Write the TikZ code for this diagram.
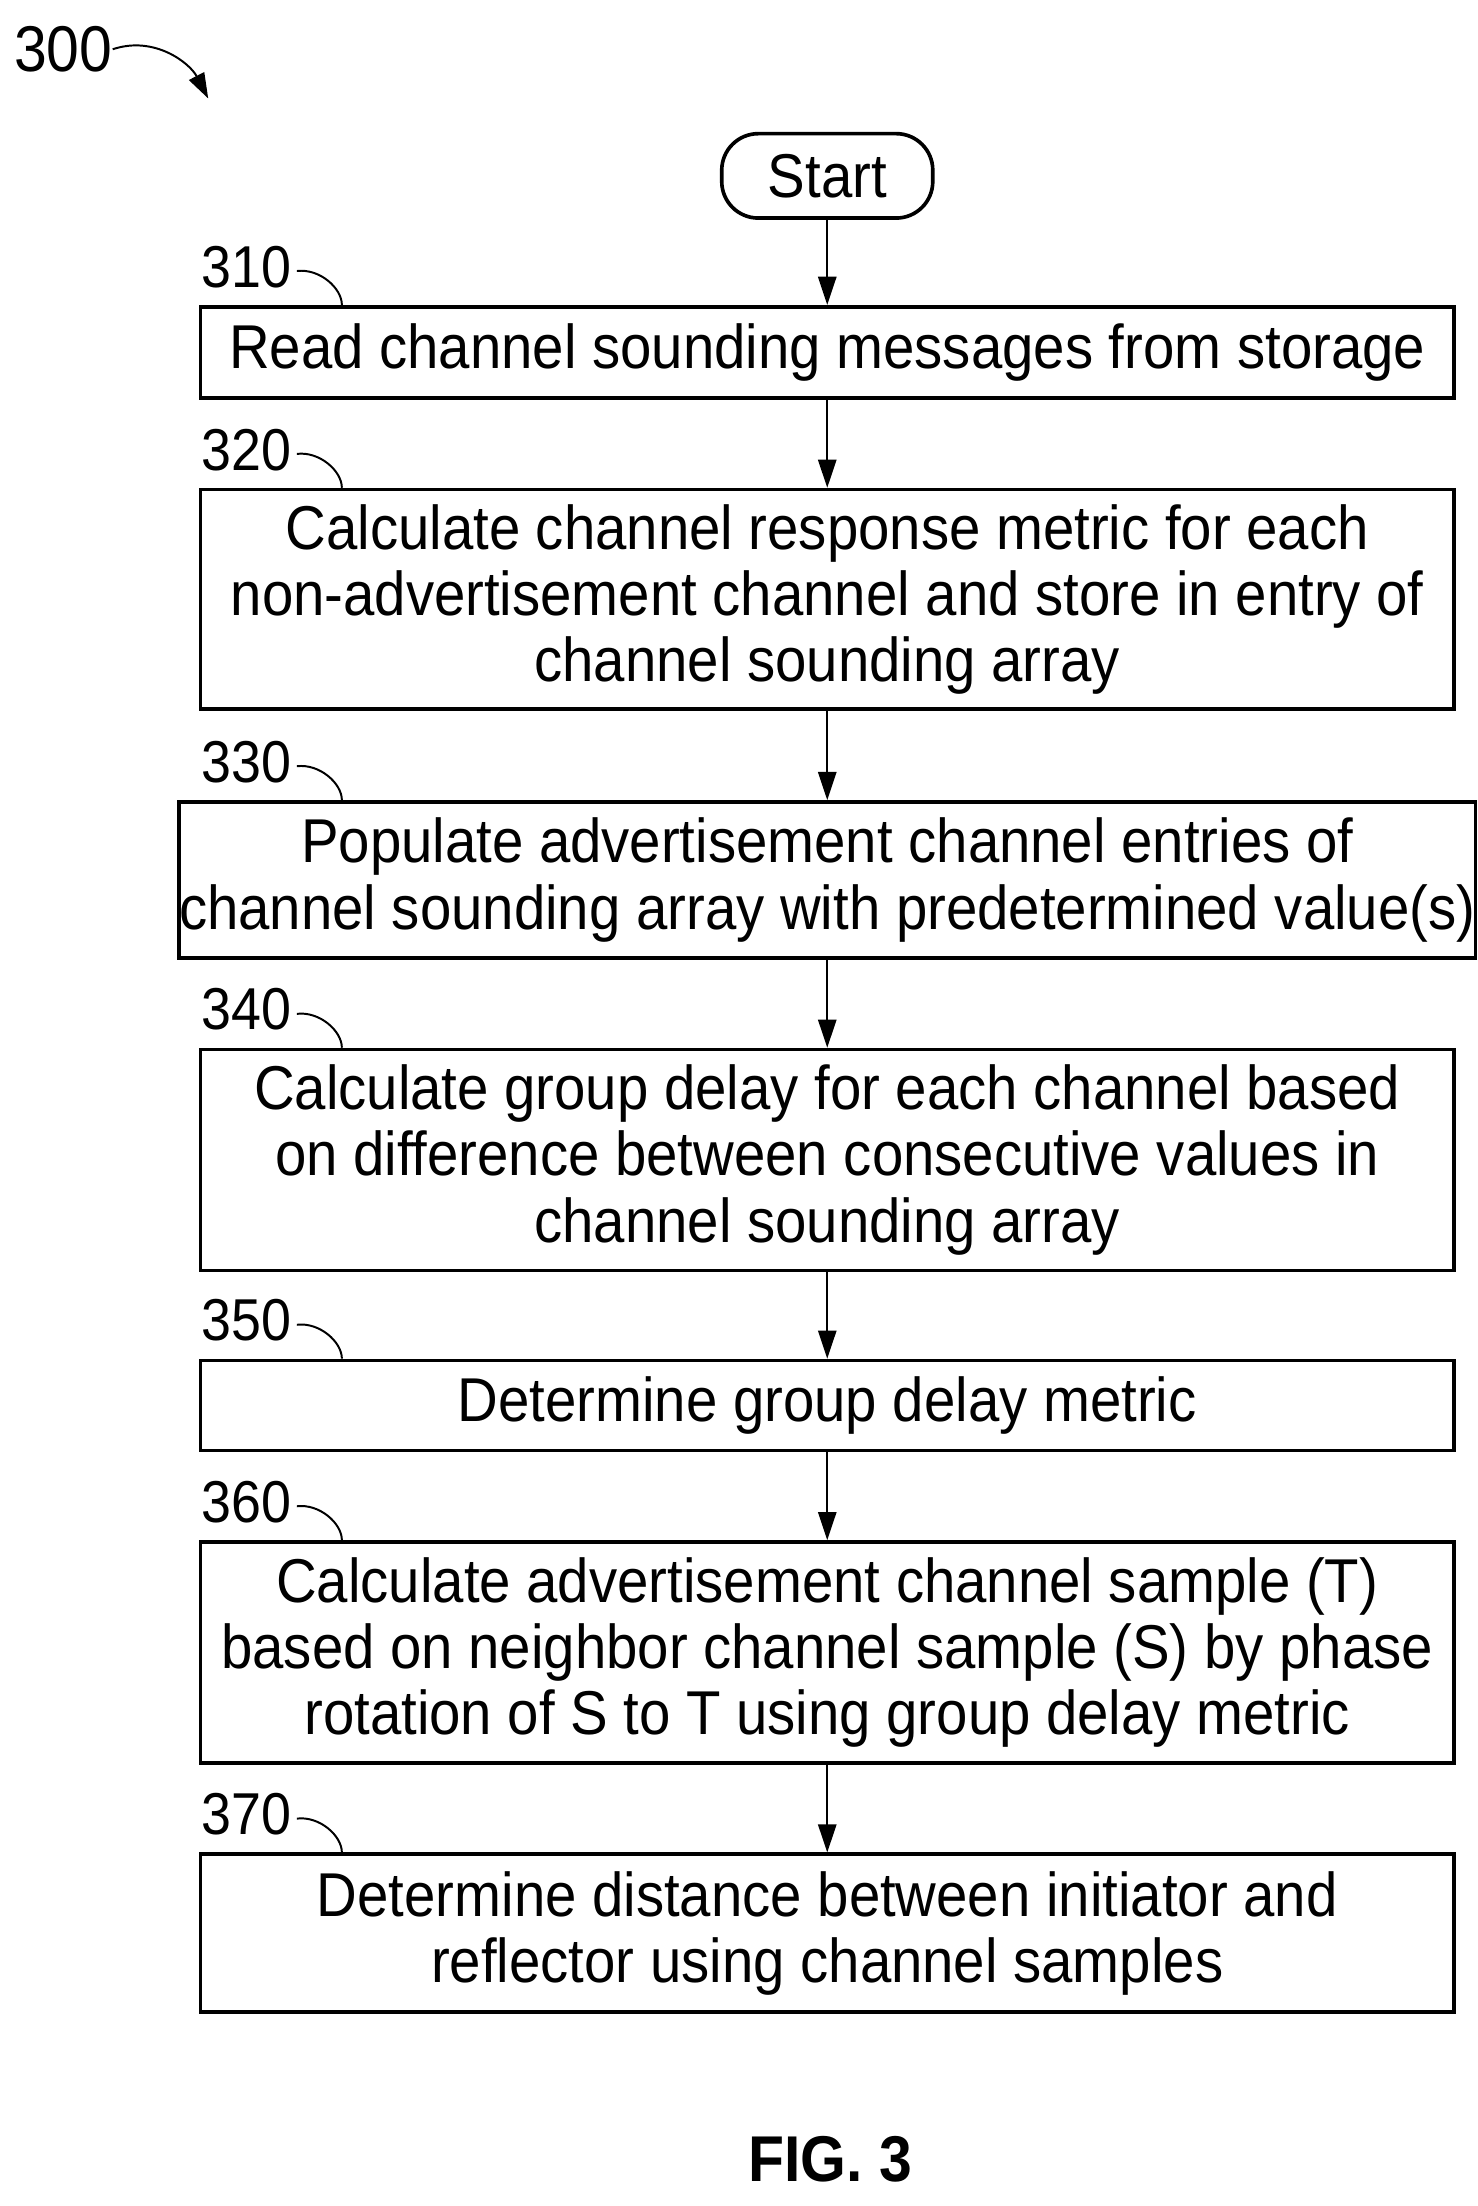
\documentclass[tikz,border=0pt]{standalone}
\usepackage{fontspec}
\setmainfont[FakeStretch=0.91]{Liberation Sans}
\usetikzlibrary{arrows.meta}
\begin{document}
\begin{tikzpicture}[x=1pt,y=-1pt,
  stepbox/.style={draw,line width=2.6pt,minimum width=891pt,inner sep=0pt,align=center,font=\fontsize{44}{47}\selectfont},
  lbl/.style={font=\fontsize{42}{44}\selectfont,inner sep=0pt},
  conn/.style={line width=1.4pt,-{Triangle[length=20pt,width=13pt]}},
  hook/.style={line width=1.4pt}]
\useasboundingbox (0,0) rectangle (1050,1568);
\node[lbl,font=\fontsize{46}{48}\selectfont] (l300) at (45,35) {300};
\coordinate (a300) at (148,70);
\draw[line width=1.4pt,-{Triangle[length=18pt,width=12pt]}] (l300.east) .. controls (110,25) and (135,45) .. (a300);
\node[draw,line width=2.6pt,rounded corners=26pt,minimum width=150pt,minimum height=60pt,font=\fontsize{44}{47}\selectfont] (start) at (588,125) {Start};
\node[stepbox,minimum height=65pt] (b310) at (588,250.5) {Read channel sounding messages from storage};
\node[stepbox,minimum height=156pt] (b320) at (588,426) {Calculate channel response metric for each\\non-advertisement channel and store in entry of\\channel sounding array};
\node[stepbox,minimum height=111pt] (b330) at (588,625.5) {Populate advertisement channel entries of\\channel sounding array with predetermined value(s)};
\node[stepbox,minimum height=157pt] (b340) at (588,824.5) {Calculate group delay for each channel based\\on difference between consecutive values in\\channel sounding array};
\node[stepbox,minimum height=64pt] (b350) at (588,999) {Determine group delay metric};
\node[stepbox,minimum height=157pt] (b360) at (588,1174.5) {Calculate advertisement channel sample (T)\\based on neighbor channel sample (S) by phase\\rotation of S to T using group delay metric};
\node[stepbox,minimum height=112pt] (b370) at (588,1374) {Determine distance between initiator and\\reflector using channel samples};
\draw[conn] (start) -- (b310);
\draw[conn] (b310) -- (b320);
\draw[conn] (b320) -- (b330);
\draw[conn] (b330) -- (b340);
\draw[conn] (b340) -- (b350);
\draw[conn] (b350) -- (b360);
\draw[conn] (b360) -- (b370);
\foreach \n in {310,320,330,340,350,360,370}{
  \node[lbl,anchor=south east] (l\n) at ([xshift=-381pt,yshift=12pt]b\n.north) {\n};
  \draw[hook] ([xshift=4pt,yshift=-3pt]l\n.east) .. controls +(16pt,2pt) and +(0,12pt) .. ([xshift=-345pt]b\n.north);
}
\node[font=\bfseries\fontsize{46}{48}\selectfont] (fig) at (590,1535) {FIG. 3};
\end{tikzpicture}
\end{document}
